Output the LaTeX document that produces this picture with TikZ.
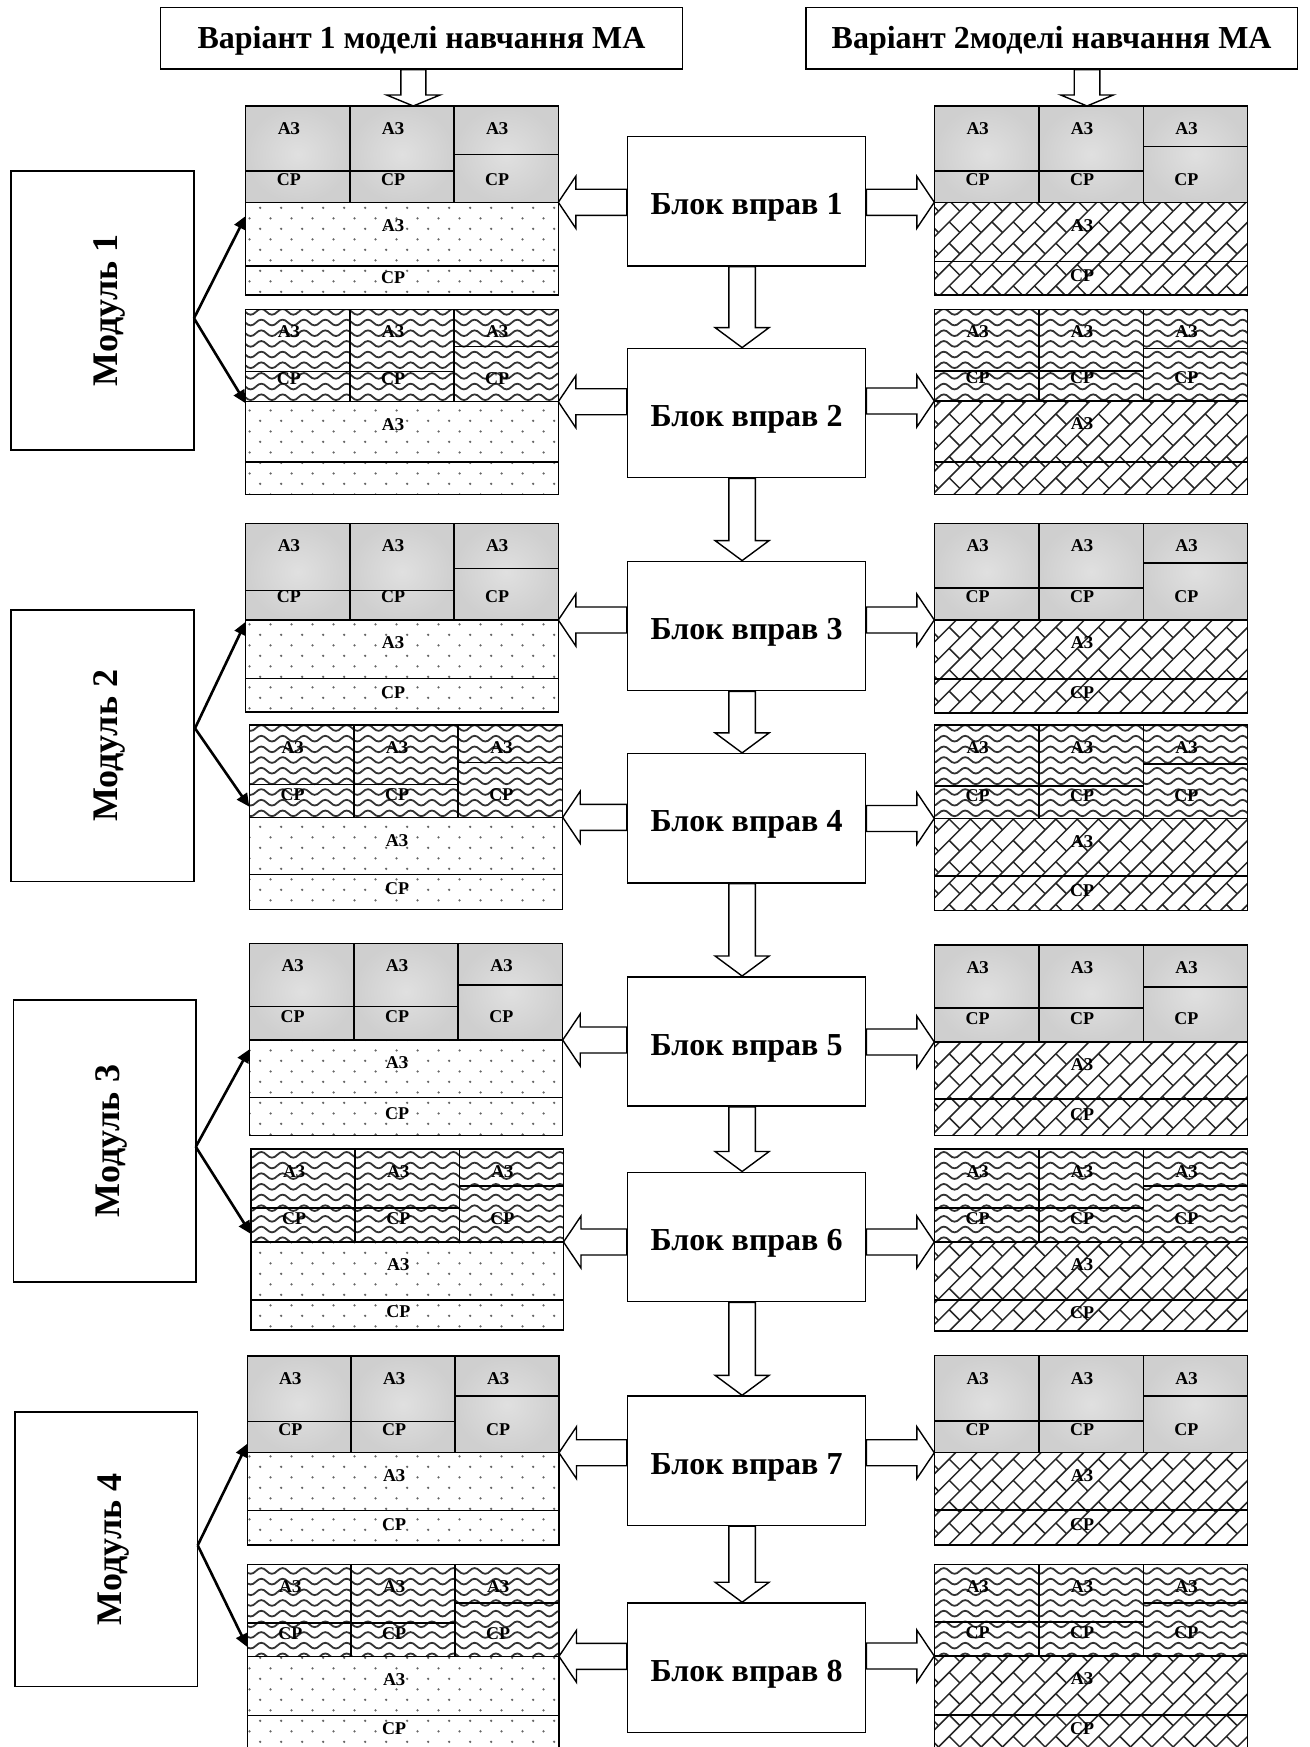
\documentclass[tikz,border=0pt]{standalone}
\usepackage{fontspec}
\setmainfont{Liberation Serif}
\usetikzlibrary{patterns,calc,arrows.meta}

\definecolor{gOut}{RGB}{207,207,207}
\definecolor{gIn}{RGB}{224,224,224}

\pgfdeclarepatternformonly{mywave}{\pgfpoint{-1pt}{-1pt}}{\pgfpoint{22.33pt}{11.67pt}}{\pgfpoint{21.33pt}{10.67pt}}{%
  \pgfsetlinewidth{1.8pt}%
  \pgfpathmoveto{\pgfpoint{0pt}{5.33pt}}%
  \pgfpathcurveto{\pgfpoint{3.6pt}{9.1pt}}{\pgfpoint{7.1pt}{9.1pt}}{\pgfpoint{10.67pt}{5.33pt}}%
  \pgfpathcurveto{\pgfpoint{14.2pt}{1.56pt}}{\pgfpoint{17.8pt}{1.56pt}}{\pgfpoint{21.33pt}{5.33pt}}%
  \pgfusepath{stroke}}

\pgfdeclarepatternformonly{mydots}{\pgfpoint{0pt}{0pt}}{\pgfpoint{21.33pt}{21.33pt}}{\pgfpoint{21.33pt}{21.33pt}}{%
  \pgfpathcircle{\pgfpoint{5.33pt}{5.33pt}}{1.3pt}%
  \pgfpathcircle{\pgfpoint{16pt}{16pt}}{1.3pt}%
  \pgfusepath{fill}}

\pgfdeclarepatternformonly{mybrick}{\pgfpoint{-1pt}{-1pt}}{\pgfpoint{22.33pt}{22.33pt}}{\pgfpoint{21.33pt}{21.33pt}}{%
  \pgfsetlinewidth{1.5pt}%
  \pgfpathmoveto{\pgfpoint{0pt}{0pt}}\pgfpathlineto{\pgfpoint{21.33pt}{21.33pt}}%
  \pgfpathmoveto{\pgfpoint{10.67pt}{10.67pt}}\pgfpathlineto{\pgfpoint{21.33pt}{0pt}}%
  \pgfusepath{stroke}}

% panel: #1 x0 #2 x1 #3 top #4 left split #5 right split #6 gray bottom #7 AZ/CP split #8 bottom #9 top style
\newcommand\panel[9]{%
  \pgfmathsetmacro\pca{#1+(#2-#1)/3}%
  \pgfmathsetmacro\pcb{#1+2*(#2-#1)/3}%
  \path[#9] (#1,#3) rectangle (\pca,#6);
  \path[#9] (\pca,#3) rectangle (\pcb,#6);
  \path[#9] (\pcb,#3) rectangle (#2,#6);
  \path[botfill] (#1,#6) rectangle (#2,#8);
  \draw[cell] (#1,#3) rectangle (#2,#8);
  \draw[cell] (\pca,#3) -- (\pca,#6) (\pcb,#3) -- (\pcb,#6)
    (#1,#4) -- (\pcb,#4) (\pcb,#5) -- (#2,#5)
    (#1,#6) -- (#2,#6) (#1,#7) -- (#2,#7);
}
% labels: #1 x0 #2 x1 #3 top #4 gray bottom #5 AZ/CP split #6 bottom #7 show bottom CP #8 name prefix
\newcommand\plabels[8]{%
  \pgfmathsetmacro\lxa{#1+(#2-#1)/6-9}%
  \pgfmathsetmacro\lxb{#1+(#2-#1)/2-9}%
  \pgfmathsetmacro\lxc{#1+5*(#2-#1)/6-9}%
  \pgfmathsetmacro\lya{#3+22.5}%
  \pgfmathsetmacro\lyc{#4-23}%
  \pgfmathsetmacro\lyd{#4+23}%
  \pgfmathsetmacro\lye{(#5+#6)/2-3}%
  \node[lbl] (#8a1) at (\lxa,\lya) {АЗ};
  \node[lbl] (#8a2) at (\lxb,\lya) {АЗ};
  \node[lbl] (#8a3) at (\lxc,\lya) {АЗ};
  \node[lbl] (#8c1) at (\lxa,\lyc) {СР};
  \node[lbl] (#8c2) at (\lxb,\lyc) {СР};
  \node[lbl] (#8c3) at (\lxc,\lyc) {СР};
  \node[lbl] (#8d) at (\lxb,\lyd) {АЗ};
  \ifnum#7=1 \node[lbl] (#8e) at (\lxb,\lye) {СР};\fi
}
\newcommand\hleft[2]{%
  \draw[hol] let \p1=(#1), \p2=(#2.west) in (\p1) -- ($(\p1)+(17.5,-26)$) -- ($(\p1)+(17.5,-13)$)
    -- (\x2,{\y1+13pt}) -- (\x2,{\y1-13pt}) -- ($(\p1)+(17.5,13)$) -- ($(\p1)+(17.5,26)$) -- cycle;}
\newcommand\hright[2]{%
  \draw[hol] let \p1=(#1), \p2=(#2.east) in (\p1) -- ($(\p1)+(-17.5,-26)$) -- ($(\p1)+(-17.5,-13)$)
    -- (\x2,{\y1+13pt}) -- (\x2,{\y1-13pt}) -- ($(\p1)+(-17.5,13)$) -- ($(\p1)+(-17.5,26)$) -- cycle;}
\newcommand\hdown[5]{%
  \draw[hol] let \p1=(#2), \p2=(#1.south) in (\p1) -- ($(\p1)+(-#4,-#3)$) -- ($(\p1)+(-#5,-#3)$)
    -- ({\x1-#5pt},\y2) -- ({\x1+#5pt},\y2) -- ($(\p1)+(#5,-#3)$) -- ($(\p1)+(#4,-#3)$) -- cycle;}

\begin{document}
\begin{tikzpicture}[x=1pt,y=-1pt,
  hdr/.style={draw,line width=1.5pt,fill=white,inner sep=0pt,minimum height=61.7pt,
    font=\fontsize{32}{34}\selectfont\bfseries,text height=21.1pt,text depth=0pt},
  blk/.style={draw,line width=1.5pt,fill=white,inner sep=0pt,minimum width=238.2pt,minimum height=129.3pt,
    font=\fontsize{32}{34}\selectfont\bfseries,text height=27.2pt,text depth=0pt},
  modbox/.style={draw,line width=1.5pt,fill=white,inner sep=0pt,rotate=90,
    font=\fontsize{36}{38}\selectfont\bfseries,text height=30.2pt,text depth=0pt},
  hol/.style={draw,line width=1.4pt,fill=white,line join=miter,miter limit=20},
  cell/.style={draw,line width=1.5pt},
  gtop/.style={inner color=gIn,outer color=gOut},
  wtop/.style={pattern=mywave,pattern color=black!80},
  dbot/.style={pattern=mydots,pattern color=black!60},
  bbot/.style={pattern=mybrick,pattern color=black!85},
  lbl/.style={inner sep=0pt,font=\fontsize{18}{19}\selectfont\bfseries},
  modarr/.style={line width=2.6pt,-{Triangle[length=13pt,width=12pt]}}
]
\useasboundingbox (0,0) rectangle (1309,1747);
\clip (0,0) rectangle (1309,1747);

% ---------- left panels ----------
\tikzset{botfill/.style=dbot}
\panel{245.7}{558.3}{106}{171}{154.3}{202.3}{266}{295}{gtop}
\panel{245.7}{558.3}{309.3}{371.5}{346.7}{401.7}{462}{494.5}{wtop}
\panel{245.7}{558.3}{523.6}{590.7}{568.4}{620}{678.3}{712}{gtop}
\panel{249.3}{562.7}{725}{784.5}{762.7}{817.3}{874.5}{909.5}{wtop}
\panel{249.3}{562.7}{943.3}{1006.7}{985}{1040}{1097.3}{1135.6}{gtop}
\panel{251}{563.5}{1149}{1208}{1186}{1242}{1300}{1330}{wtop}
\panel{247.3}{559}{1356}{1421.3}{1396}{1452.7}{1510.3}{1545}{gtop}
\panel{247.3}{559}{1564.3}{1623}{1603}{1656.3}{1715.3}{1760}{wtop}

% ---------- right panels ----------
\tikzset{botfill/.style=bbot}
\panel{934.3}{1247.7}{106}{171}{146.7}{202.3}{261.7}{295}{gtop}
\panel{934.3}{1247.7}{309.3}{371}{348.3}{401}{462}{494.5}{wtop}
\panel{934.3}{1247.7}{523.6}{588}{563}{620}{679}{713}{gtop}
\panel{934.3}{1247.7}{725}{786}{764}{818.5}{876}{910.5}{wtop}
\panel{934.3}{1247.7}{945}{1008}{987}{1042}{1099}{1135.6}{gtop}
\panel{934.3}{1247.7}{1149}{1208}{1186}{1242}{1300}{1331}{wtop}
\panel{934.3}{1247.7}{1355.7}{1421}{1396}{1452.7}{1510}{1545}{gtop}
\panel{934.3}{1247.7}{1564.3}{1622}{1603}{1656}{1715}{1760}{wtop}

% ---------- labels ----------
\plabels{245.7}{558.3}{106}{202.3}{266}{295}{1}{la}
\plabels{245.7}{558.3}{309.3}{401.7}{462}{494.5}{0}{lb}
\plabels{245.7}{558.3}{523.6}{620}{678.3}{712}{1}{lc}
\plabels{249.3}{562.7}{725}{817.3}{874.5}{909.5}{1}{ld}
\plabels{249.3}{562.7}{943.3}{1040}{1097.3}{1135.6}{1}{le}
\plabels{251}{563.5}{1149}{1242}{1300}{1330}{1}{lf}
\plabels{247.3}{559}{1356}{1452.7}{1510.3}{1545}{1}{lg}
\plabels{247.3}{559}{1564.3}{1656.3}{1715.3}{1748}{1}{lh}
\plabels{934.3}{1247.7}{106}{202.3}{261.7}{295}{1}{ra}
\plabels{934.3}{1247.7}{309.3}{401}{462}{494.5}{0}{rb}
\plabels{934.3}{1247.7}{523.6}{620}{679}{713}{1}{rc}
\plabels{934.3}{1247.7}{725}{818.5}{876}{910.5}{1}{rd}
\plabels{934.3}{1247.7}{945}{1042}{1099}{1135.6}{1}{re}
\plabels{934.3}{1247.7}{1149}{1242}{1300}{1331}{1}{rf}
\plabels{934.3}{1247.7}{1355.7}{1452.7}{1510}{1545}{1}{rg}
\plabels{934.3}{1247.7}{1564.3}{1656}{1715}{1748}{1}{rh}

% ---------- headers and blocks ----------
\node[hdr,minimum width=521.6pt] (h1) at (421.5,38.15) {Варіант 1 моделі навчання МА};
\node[hdr,minimum width=491.3pt] (h2) at (1051.65,38.15) {Варіант 2моделі навчання МА};

\node[blk] (b1) at (746.6,201.35) {Блок вправ 1};
\node[blk] (b2) at (746.6,413) {Блок вправ 2};
\node[blk] (b3) at (746.6,626) {Блок вправ 3};
\node[blk] (b4) at (746.6,818.3) {Блок вправ 4};
\node[blk] (b5) at (746.6,1041.4) {Блок вправ 5};
\node[blk] (b6) at (746.6,1236.9) {Блок вправ 6};
\node[blk] (b7) at (746.6,1460.7) {Блок вправ 7};
\node[blk] (b8) at (746.6,1667.6) {Блок вправ 8};

% ---------- hollow arrows ----------
\coordinate (t1) at (413.3,106);
\coordinate (t2) at (1087,106);
\hdown{h1}{t1}{11}{26.7}{12.5}
\hdown{h2}{t2}{11}{26.3}{12.8}

\foreach \i/\j in {1/2,2/3,3/4,4/5,5/6,6/7,7/8}{
  \coordinate (d\j) at ($(b\j.north)+(-4.5,0)$);
  \hdown{b\i}{d\j}{20}{27}{13.3}
}

\coordinate (L1) at (558.3,202.3);
\coordinate (L2) at (558.3,401.7);
\coordinate (L3) at (558.3,620);
\coordinate (L4) at (562.7,817.3);
\coordinate (L5) at (562.7,1040);
\coordinate (L6) at (563.5,1242);
\coordinate (L7) at (559,1452.7);
\coordinate (L8) at (559,1656.3);
\coordinate (R1) at (934.3,202.3);
\coordinate (R2) at (934.3,401);
\coordinate (R3) at (934.3,620);
\coordinate (R4) at (934.3,818.5);
\coordinate (R5) at (934.3,1042);
\coordinate (R6) at (934.3,1242);
\coordinate (R7) at (934.3,1452.7);
\coordinate (R8) at (934.3,1656);
\foreach \i in {1,...,8}{
  \hleft{L\i}{b\i}
  \hright{R\i}{b\i}
}

% ---------- modules ----------
\node[modbox,minimum width=278.8pt,minimum height=183pt] (m1) at (102.5,310.4) {Модуль 1};
\node[modbox,minimum width=271.7pt,minimum height=183pt] (m2) at (102.5,745.85) {Модуль 2};
\node[modbox,minimum width=282pt,minimum height=182.4pt] (m3) at (104.6,1141) {Модуль 3};
\node[modbox,minimum width=274.3pt,minimum height=182.7pt] (m4) at (106.35,1549.15) {Модуль 4};

\coordinate (v1) at (194,318.3);
\coordinate (v2) at (195,728.3);
\coordinate (v3) at (195.8,1146.8);
\coordinate (v4) at (197.7,1545.3);
\coordinate (p1a) at (245.7,216);
\coordinate (p1b) at (245.7,403.3);
\coordinate (p2a) at (245.7,621.7);
\coordinate (p2b) at (249.3,806.7);
\coordinate (p3a) at (249.3,1049.4);
\coordinate (p3b) at (251,1234);
\coordinate (p4a) at (247.3,1443.7);
\coordinate (p4b) at (247.3,1647);
\foreach \k in {1,2,3,4}{
  \draw[modarr] (v\k) -- (p\k a);
  \draw[modarr] (v\k) -- (p\k b);
}
\end{tikzpicture}
\end{document}
